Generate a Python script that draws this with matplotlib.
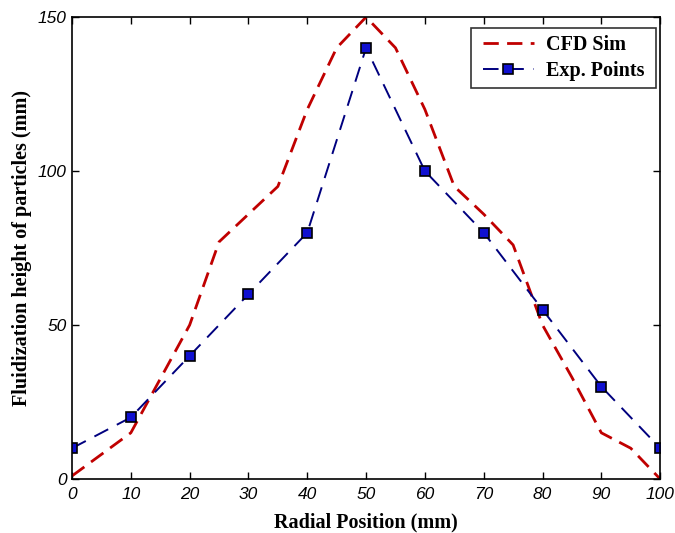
import matplotlib
matplotlib.use("Agg")
import matplotlib.pyplot as plt

# CFD simulation profile
cfd_x = [0, 10, 20, 25, 30, 35, 40, 45, 50, 55, 60, 65, 70, 75, 80, 85, 90, 95, 100]
cfd_y = [1, 15, 50, 77, 86, 95, 120, 140, 150, 140, 120, 95, 86, 76, 50, 33, 15, 10, 0]

# Experimental measurements
exp_x = [0, 10, 20, 30, 40, 50, 60, 70, 80, 90, 100]
exp_y = [10, 20, 40, 60, 80, 140, 100, 80, 55, 30, 10]

xticks = [0, 10, 20, 30, 40, 50, 60, 70, 80, 90, 100]
yticks = [0, 50, 100, 150]

fig = plt.figure(figsize=(6.75, 5.33), dpi=100)
ax = fig.add_axes([0.1067, 0.1013, 0.8713, 0.8667])

ax.plot(cfd_x, cfd_y, color="#c00000", linestyle=(0, (5.5, 3)), linewidth=2.0,
        label="CFD Sim")
ax.plot(exp_x, exp_y, color="#00007f", linestyle=(0, (8, 5)), linewidth=1.4,
        marker="s", markersize=7.5, markerfacecolor="#1010d0",
        markeredgecolor="black", markeredgewidth=1.2, label="Exp. Points")

ax.set_xlim(0, 100)
ax.set_ylim(0, 150)
ax.set_xticks(xticks)
ax.set_yticks(yticks)
ax.tick_params(direction="in", top=True, right=True, length=5, width=1,
               labelsize=12.5)
ax.tick_params(axis="x", pad=6)
ax.tick_params(axis="y", pad=4)
for lbl in ax.get_xticklabels() + ax.get_yticklabels():
    lbl.set_fontfamily("Liberation Sans")
    lbl.set_fontstyle("italic")

for sp in ax.spines.values():
    sp.set_linewidth(1.2)

label_font = dict(family="Liberation Serif", weight="bold", size=14.5)
ax.set_xlabel("Radial Position (mm)", labelpad=7, **label_font)
ax.set_ylabel("Fluidization height of particles (mm)", labelpad=4, **label_font)

leg = ax.legend(loc="upper right", bbox_to_anchor=(0.9847, 0.976),
                borderaxespad=0,
                prop=dict(family="Liberation Serif", weight="bold", size=14.5),
                frameon=True, fancybox=False, edgecolor="black",
                handlelength=2.5, handletextpad=0.6, borderpad=0.35,
                labelspacing=0.3)
# widen the legend frame horizontally only
frame = leg.get_frame()
frame.set_boxstyle("square", pad=0.25)
frame.set_mutation_aspect(0.01)
frame.set_linewidth(1.2)

fig.savefig("out.png", dpi=100, facecolor="white")
